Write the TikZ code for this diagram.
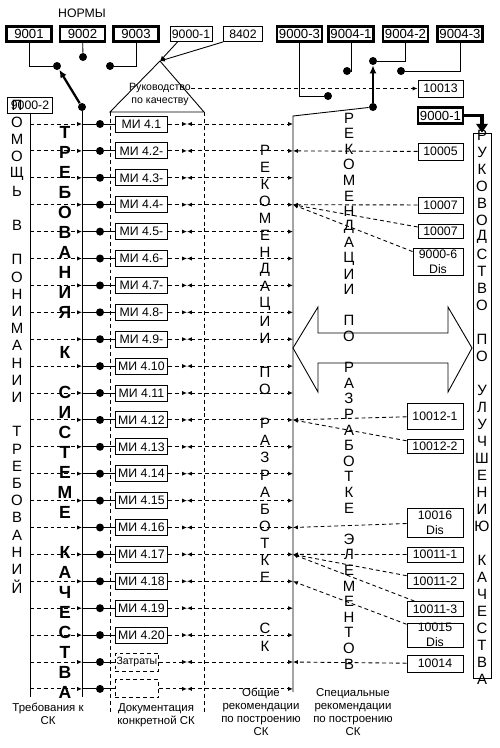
\documentclass[tikz,border=0pt]{standalone}
\usepackage{fontspec}
\setmainfont{Liberation Sans}
\usetikzlibrary{arrows.meta,positioning}

% letters set one under another
\newcommand{\vletters}[6][letter]{%
  \foreach \ch [count=\k from 0] in {#6}
    \node[#1] (#2\k) at (#3,{#4+#5*\k}) {\ch};}

\begin{document}
\begin{tikzpicture}[x=0.02cm,y=-0.02cm,line width=0.5pt,
    >={Latex[length=2.8pt,width=2.4pt]},
    every node/.style={inner sep=0pt,font=\fontsize{7}{8.5}\selectfont},
    numbox/.style={rectangle,draw,minimum width=0.9cm,minimum height=0.3cm},
    normbox/.style={numbox,line width=1.3pt,font=\fontsize{7.5}{8.5}\selectfont},
    mibox/.style={rectangle,draw,minimum width=1.04cm,minimum height=0.32cm},
    costbox/.style={mibox,dline,minimum width=0.86cm,minimum height=0.36cm,
    font=\fontsize{6}{7}\selectfont},
    dot/.style={circle,fill,minimum size=0.16cm},
    letter/.style={font=\fontsize{8.5}{9}\selectfont},
    bigletter/.style={font=\fontsize{10}{11}\selectfont\bfseries},
    dline/.style={dash pattern=on 2.2pt off 1.7pt},
    switch/.style={line width=1.3pt,-{Latex[length=4.5pt,width=4pt]}},
    bigarrow/.style={line width=1.8pt,-{Triangle[length=5pt,width=6.5pt]}},
    caption/.style={align=center,font=\fontsize{6.5}{7.4}\selectfont}
    ]
\useasboundingbox (0,0) rectangle (500,748);

% norms
\node (norms) at (82,13) {НОРМЫ};
\node[normbox] (s9001) at (29,34) {9001};
\node[normbox] (s9002) at (82.5,34) {9002};
\node[normbox] (s9003) at (136,34) {9003};
\node[numbox,minimum width=0.84cm] (s90001) at (191,34) {9000-1};
\node[numbox,minimum width=0.78cm] (s8402) at (243,34) {8402};
\node[normbox] (s90003) at (299.5,34) {9000-3};
\node[normbox] (s90041) at (351,34) {9004-1};
\node[normbox] (s90042) at (405.5,34) {9004-2};
\node[normbox] (s90043) at (460,34) {9004-3};

% switch on the left
\node[dot] (d1) at (57,66) {};
\node[dot] (d2) at (83,57) {};
\node[dot] (d3) at (110,66) {};
\node[dot] (dsw) at (82,107) {};
\draw (s9001) |- (d1);
\draw (s9002) -- (d2);
\draw (s9003) |- (d3);
\draw[switch] (dsw) -- (d1);

% switch on the right
\node[dot] (e0) at (328,96) {};
\node[dot] (e1) at (347,71) {};
\node[dot] (e2) at (373,61) {};
\node[dot] (e3) at (401,71) {};
\node[dot] (esw) at (373,107) {};
\draw (s90003) |- (e0);
\draw (s90041) |- (e1);
\draw (s90042) |- (e2);
\draw (s90043) |- (e3);
\draw[switch] (esw) -- (e2);

% quality manual
\coordinate (tapex) at (160,61);
\coordinate (tl) at (110,112);
\coordinate (tr) at (204,112);
\draw (tapex) -- (tl) -- (tr) -- cycle;
\node[align=center,font=\fontsize{6}{7.4}\selectfont] (rk) at (160,94.5)
  {Руководство\\по качеству};
\draw[->] ([xshift=0.16cm]s90001.south west) -- (tapex);
\draw[->] (s8402.south west) -- (tapex);

% main lines
\node[numbox,minimum height=0.32cm] (s90002) at (30,105) {9000-2};
\coordinate (lbotl) at (30,697);
\coordinate (lbot) at (82,697);
\coordinate (rtop) at (293,116);
\coordinate (rbot) at (293,692);
\coordinate (dl) at (110,712);
\coordinate (dr) at (204,712);
\draw (s90002) -- (lbotl);
\draw (dsw) -- (lbot);
\draw (esw) -- (rtop) -- (rbot);
\draw[dline] (tl) -- (dl);
\draw[dline] (tr) -- (dr);

% rows
\foreach \i/\lbl/\sty in {1/МИ 4.1/mibox,2/МИ 4.2-/mibox,3/МИ 4.3-/mibox,
    4/МИ 4.4-/mibox,5/МИ 4.5-/mibox,6/МИ 4.6-/mibox,7/МИ 4.7-/mibox,
    8/МИ 4.8-/mibox,9/МИ 4.9-/mibox,10/МИ 4.10/mibox,11/МИ 4.11/mibox,
    12/МИ 4.12/mibox,13/МИ 4.13/mibox,14/МИ 4.14/mibox,15/МИ 4.15/mibox,
    16/МИ 4.16/mibox,17/МИ 4.17/mibox,18/МИ 4.18/mibox,19/МИ 4.19/mibox,
    20/МИ 4.20/mibox,21/Затраты/costbox,22//costbox} {
  \pgfmathsetmacro\ry{124+26.9*(\i-1)}
  \coordinate (a\i) at (30,\ry);
  \coordinate (b\i) at (82,\ry);
  \node[dot] (dt\i) at (100,\ry) {};
  \node[\sty,anchor=west] (mi\i) at (115,\ry) {\lbl};
  \coordinate (m\i) at (187,\ry);
  \coordinate (r\i) at (293,\ry);
  \draw[dline,->] (a\i) -- (b\i);
  \draw (b\i) -- (dt\i) -- (mi\i);
  \draw[dline,->] (mi\i) -- (m\i);
  \draw[dline,<->] (m\i) -- (r\i);
}

% special recommendations
\node[numbox,minimum height=0.34cm] (s10013) at (440.5,88.5) {10013};
\node[normbox,minimum height=0.32cm] (s90001r) at (440.5,115.5) {9000-1};
\node[numbox,minimum height=0.34cm] (s10005) at (440.5,151.5) {10005};
\node[numbox,minimum height=0.32cm] (s10007a) at (440.5,205) {10007};
\node[numbox,minimum height=0.28cm] (s10007b) at (440.5,231) {10007};
\node[numbox,minimum width=1cm,minimum height=0.54cm,align=center] (s90006)
  at (438,261.5) {9000-6\\Dis};
\node[numbox,minimum width=1.12cm,minimum height=0.52cm] (s10012a) at (435,416) {10012-1};
\node[numbox,minimum width=1.12cm,minimum height=0.28cm] (s10012b) at (435,446) {10012-2};
\node[numbox,minimum width=1.12cm,minimum height=0.58cm,align=center] (s10016)
  at (435,522.5) {10016\\Dis};
\node[numbox,minimum width=1.12cm] (s10011a) at (435,554.5) {10011-1};
\node[numbox,minimum width=1.12cm] (s10011b) at (435,581) {10011-2};
\node[numbox,minimum width=1.12cm] (s10011c) at (435,609) {10011-3};
\node[numbox,minimum width=1.12cm,minimum height=0.48cm,align=center] (s10015)
  at (435,635) {10015\\Dis};
\node[numbox,minimum width=1.12cm,minimum height=0.34cm] (s10014) at (435,663.5) {10014};

\draw[dline,->] (rk.east |- s10013) -- (s10013);
\draw[dline,->] (s10005) -- (r2);
\foreach \b in {s10007a,s10007b,s90006} \draw[dline,->] (\b) -- (r4);
\foreach \b in {s10012a,s10012b} \draw[dline,->] (\b) -- (r12);
\draw[dline,->] (s10016) -- (r16);
\foreach \b in {s10011a,s10011b,s10011c} \draw[dline,->] (\b) -- (r17);
\draw[dline,->] (s10015) -- (r18);
\draw[dline,->] (s10014) -- (r21);

% improvement guide
\node[draw,minimum width=0.36cm,minimum height=10.9cm] (rkbox) at (482,405.5) {};

% two-way arrow
\draw[fill=white] (293,348) -- (318,307) -- (318,333) -- (448,333) -- (448,307)
  -- (472,348) -- (448,392) -- (448,363) -- (318,363) -- (318,392) -- cycle;

% vertical texts
\vletters{lc}{17}{105}{17.2}{П,О,М,О,Щ,Ь,~,В,~,П,О,Н,И,М,А,Н,И,И,~,Т,Р,Е,Б,О,В,А,Н,И,Й}
\vletters[bigletter]{bc}{65}{132}{20}{Т,Р,Е,Б,О,В,А,Н,И,Я,~,К,~,С,И,С,Т,Е,М,Е,~,К,А,Ч,Е,С,Т,В,А}
\vletters{mc}{265}{150}{17.1}{Р,Е,К,О,М,Е,Н,Д,А,Ц,И,И,~,П,О,~,Р,А,З,Р,А,Б,О,Т,К,Е,~,~,С,К}
\vletters{sc}{349}{118}{15.6}{Р,Е,К,О,М,Е,Н,Д,А,Ц,И,И,~,П,О,~,Р,А,З,Р,А,Б,О,Т,К,Е,~,Э,Л,Е,М,Е,Н,Т,О,В}
\vletters{rc}{482}{135}{17}{Р,У,К,О,В,О,Д,С,Т,В,О,~,П,О,~,У,Л,У,Ч,Ш,Е,Н,И,Ю,~,К,А,Ч,Е,С,Т,В,А}

\draw[bigarrow] (s90001r) -| (rkbox.north);

% captions
\node[caption,anchor=north] (capreq) at (48,703) {Требования к\\СК};
\node[caption,anchor=north] (capdoc) at (156,703) {Документация\\конкретной СК};
\node[caption,anchor=north] (capgen) at (261,688) {Общие\\рекомендации\\по построению\\СК};
\node[caption,anchor=north] (capspec) at (353,688) {Специальные\\рекомендации\\по построению\\СК};
\end{tikzpicture}
\end{document}
